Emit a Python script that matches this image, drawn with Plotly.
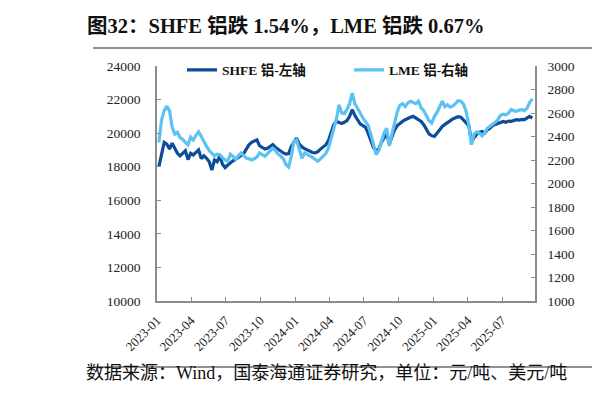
import datetime as dt
import plotly.graph_objects as go

start = dt.date(2023, 1, 6)
n_weeks = 142
dates = [(start + dt.timedelta(days=7 * i)).isoformat() for i in range(n_weeks)]

shfe = [
    18000, 18700, 19450, 19350, 19050, 19400, 19100, 18800, 18650, 18800,
    18950, 18420, 18800, 18700, 18850, 19000, 18480, 18650, 18500, 18300,
    17800, 18400, 18300, 18640, 18150, 17950, 18100, 18250, 18350, 18450,
    18550, 18640, 18780, 19050, 19300, 19450, 19550, 19600, 19250, 19150,
    19050, 19100, 19200, 19320, 19150, 19020, 18900, 18820, 18750, 18780,
    19200, 19500, 19700, 19350, 19180, 19080, 19000, 18900, 18850, 18820,
    18900, 19050, 19150, 19300, 19550, 20000, 20500, 20700, 20620, 20580,
    20650, 20750, 21000, 21400, 21050, 20750, 20550, 20450, 20350, 20000,
    19600, 19150, 18950, 19050, 19450, 19750, 20000, 19350, 19850, 20200,
    20450, 20600, 20700, 20800, 20900, 20950, 21000, 20900, 20800, 20700,
    20500, 20200, 19950, 19850, 19800, 20000, 20200, 20400, 20520, 20650,
    20720, 20850, 20920, 20980, 20950, 20780, 20600, 20450, 19500, 19750,
    19950, 20050, 20100, 20000, 20200, 20300, 20450, 20520, 20580, 20620,
    20700, 20650, 20720, 20700, 20760, 20800, 20780, 20820, 20800, 20900,
    21000, 20900,
]

lme = [
    2350, 2540, 2620, 2660, 2620, 2480, 2420, 2435, 2390, 2375,
    2350, 2330, 2395, 2370, 2410, 2440, 2400, 2350, 2315, 2280,
    2255, 2235, 2250, 2245, 2220, 2200, 2190, 2250, 2230, 2205,
    2235, 2260, 2240, 2217, 2210, 2200, 2210, 2225, 2260, 2245,
    2232, 2255, 2275, 2300, 2280, 2250, 2235, 2210, 2160, 2140,
    2235, 2360, 2370, 2290, 2215, 2260, 2250, 2235, 2222, 2205,
    2190, 2210, 2232, 2255, 2300, 2390, 2470, 2545, 2670, 2600,
    2595, 2630, 2680, 2770, 2680, 2645, 2600, 2558, 2530, 2495,
    2420, 2340, 2245, 2280, 2360, 2430, 2470, 2320, 2420, 2520,
    2610, 2665, 2680, 2655, 2685, 2700, 2690, 2680, 2700, 2643,
    2620, 2575, 2535, 2515, 2570, 2605, 2660, 2700, 2655, 2670,
    2650, 2660, 2680, 2705, 2700, 2675, 2614, 2500, 2330, 2420,
    2440, 2430, 2405, 2430, 2470, 2485, 2500, 2520, 2545, 2580,
    2590, 2585, 2600, 2630, 2620, 2614, 2625, 2628, 2620, 2640,
    2690, 2720,
]

left_ticks = [10000, 12000, 14000, 16000, 18000, 20000, 22000, 24000]
right_ticks = [1000, 1200, 1400, 1600, 1800, 2000, 2200, 2400, 2600, 2800, 3000]

title_text = "图32：SHFE 铝跌 1.54%，LME 铝跌 0.67%"
source_text = "数据来源：Wind，国泰海通证券研究，单位：元/吨、美元/吨"
name_shfe = "SHFE 铝-左轴"
name_lme = "LME 铝-右轴"

DARK = "#0F4C97"
LIGHT = "#5BC2F2"
AXIS = "#8C8C8C"
SERIF = "Liberation Serif, Noto Sans CJK SC, serif"

fig = go.Figure()
fig.add_trace(go.Scatter(x=dates, y=shfe, name=name_shfe, mode="lines",
                         line=dict(color=DARK, width=3.2)))
fig.add_trace(go.Scatter(x=dates, y=lme, name=name_lme, mode="lines",
                         line=dict(color=LIGHT, width=3.2), yaxis="y2"))

axis_common = dict(showgrid=False, zeroline=False, showline=True, linecolor=AXIS,
                   linewidth=1.5, ticks="inside", ticklen=4, tickcolor=AXIS,
                   tickwidth=1.2)

def px_x(p):
    return (p - 149) / 378

def px_y(p):
    return (293 - p) / 235

fig.update_layout(
    width=611, height=394,
    margin=dict(l=149, r=84, t=58, b=101),
    paper_bgcolor="white", plot_bgcolor="white",
    font=dict(family=SERIF, size=12, color="#222222"),
    showlegend=True,
    legend=dict(orientation="h", x=px_x(174), y=px_y(62), xanchor="left", yanchor="middle",
                bgcolor="rgba(0,0,0,0)",
                font=dict(family=SERIF, size=13.5, color="#111111", weight="bold"),
                entrywidth=122, entrywidthmode="pixels", tracegroupgap=0),
    xaxis=dict(axis_common, type="date", range=["2023-01-01", "2025-09-26"],
               tick0="2023-01-01", dtick="M3", tickformat="%Y-%m", tickangle=-45,
               ticklabelstandoff=5,
               tickfont=dict(family=SERIF, size=13, color="#222222")),
    yaxis=dict(axis_common, range=[10000, 24000], tickvals=left_ticks, tickformat="d",
               ticklabelstandoff=12,
               tickfont=dict(family=SERIF, size=13.5, color="#222222")),
    yaxis2=dict(axis_common, range=[1000, 3000], tickvals=right_ticks, tickformat="d",
                overlaying="y", side="right", ticklabelstandoff=8,
                tickfont=dict(family=SERIF, size=13.5, color="#222222")),
)

fig.add_annotation(text="<b>" + title_text + "</b>", xref="paper", yref="paper",
                   x=px_x(77), y=px_y(18), xanchor="left",
                   yanchor="middle", showarrow=False,
                   font=dict(family=SERIF, size=20.5, color="#111111"))
fig.add_annotation(text=source_text, xref="paper", yref="paper",
                   x=px_x(76), y=px_y(365), xanchor="left",
                   yanchor="middle", showarrow=False,
                   font=dict(family=SERIF, size=18, color="#111111"))

for y0 in (40, 359):
    fig.add_shape(type="line", xref="paper", yref="paper",
                  x0=px_x(85), x1=px_x(584), y0=px_y(y0), y1=px_y(y0),
                  line=dict(color="#6E6E6E", width=1.5))
    fig.add_shape(type="line", xref="paper", yref="paper",
                  x0=px_x(599), x1=px_x(640), y0=px_y(y0), y1=px_y(y0),
                  line=dict(color="#6E6E6E", width=1.5))

fig.write_html("out.html")
